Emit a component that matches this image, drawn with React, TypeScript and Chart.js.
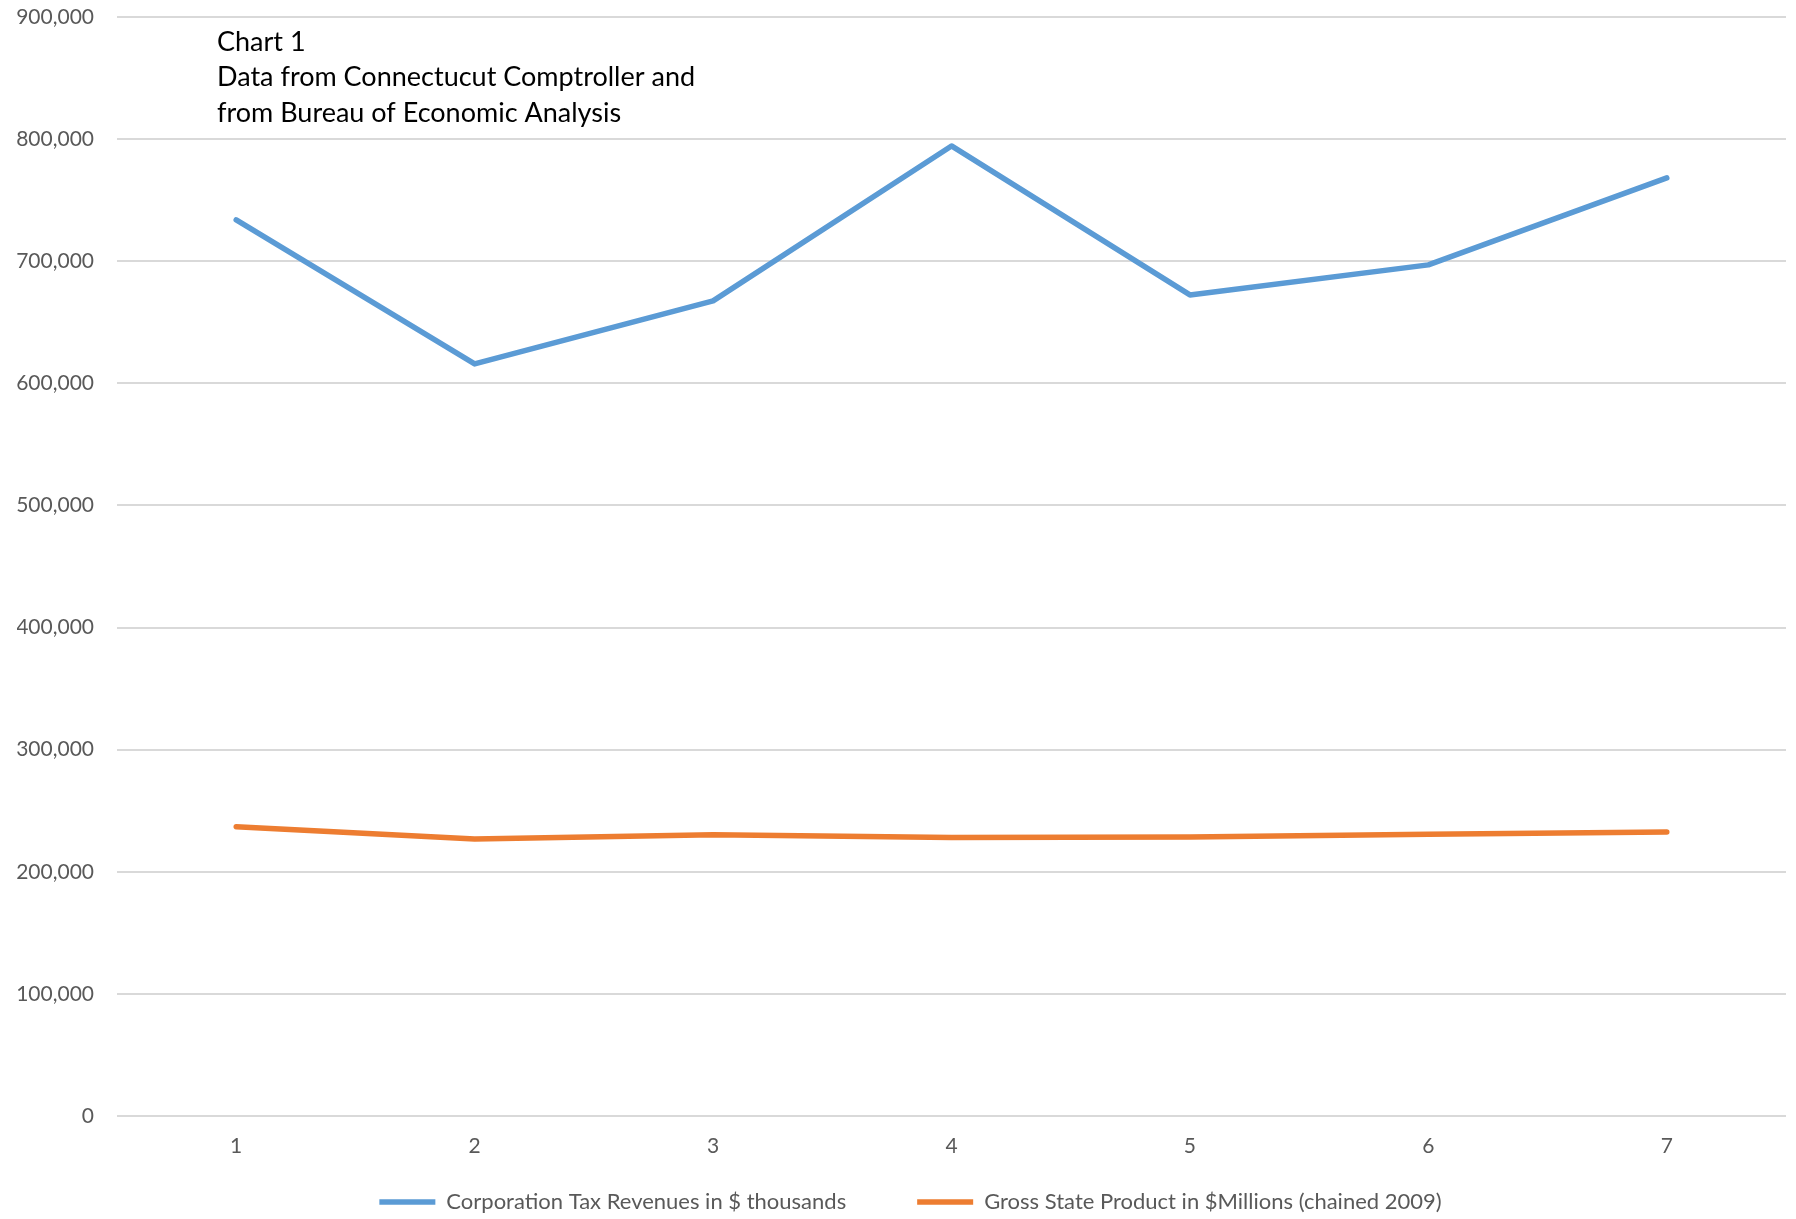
import { useEffect, useRef } from "react";
import { Chart, registerables } from "chart.js";

Chart.register(...registerables);

const categories = ["1", "2", "3", "4", "5", "6", "7"];
const corporationTaxRevenues = [733800, 615900, 667500, 794400, 672400, 697000, 768200];
const grossStateProduct = [236900, 226900, 230400, 228000, 228400, 230800, 232600];
const seriesLabels = [
  "Corporation Tax Revenues in $ thousands",
  "Gross State Product in $Millions (chained 2009)",
];
const titleLines = [
  "Chart 1",
  "Data from Connectucut Comptroller and",
  "from Bureau of Economic Analysis",
];
const yMin = 0;
const yMax = 900000;
const yStep = 100000;

const FONT = "Lato, 'Open Sans', sans-serif";
const LEGEND_FONT_SIZE = 22;

const cornerTitlePlugin = {
  id: "cornerTitle",
  afterDraw(chart: any) {
    const { ctx, chartArea } = chart;
    ctx.save();
    ctx.font = `27px ${FONT}`;
    ctx.fillStyle = "#000000";
    ctx.textAlign = "left";
    ctx.textBaseline = "middle";
    titleLines.forEach((t, i) => {
      ctx.fillText(t, chartArea.left + 100, chartArea.top + 25 + i * 35.5);
    });
    ctx.restore();
  },
};

const legendPlacePlugin = {
  id: "legendPlace",
  afterLayout(chart: any) {
    const lg = chart.legend;
    if (!lg) return;
    const pad = lg.options.labels.padding;
    lg.top = lg.bottom - 17 - LEGEND_FONT_SIZE / 2 - pad;
    lg.left += 9;
    lg.right += 9;
  },
};

export default function App() {
  const ref = useRef<HTMLCanvasElement | null>(null);

  useEffect(() => {
    if (!ref.current) return;
    const chart = new Chart(ref.current, {
      type: "line",
      data: {
        labels: categories,
        datasets: [
          {
            label: seriesLabels[0],
            data: corporationTaxRevenues,
            borderColor: "#5B9BD5",
            backgroundColor: "#5B9BD5",
            borderWidth: 5.5,
            borderCapStyle: "round",
            borderJoinStyle: "round",
            pointRadius: 0,
            pointHoverRadius: 0,
            tension: 0,
            fill: false,
          },
          {
            label: seriesLabels[1],
            data: grossStateProduct,
            borderColor: "#ED7D31",
            backgroundColor: "#ED7D31",
            borderWidth: 5.5,
            borderCapStyle: "round",
            borderJoinStyle: "round",
            pointRadius: 0,
            pointHoverRadius: 0,
            tension: 0,
            fill: false,
          },
        ],
      },
      options: {
        responsive: false,
        animation: false,
        devicePixelRatio: 1,
        layout: { padding: { left: 17, right: 10, top: 17, bottom: 0 } },
        scales: {
          x: {
            type: "category",
            offset: true,
            grid: { display: false, drawTicks: false },
            border: { display: false },
            ticks: {
              padding: 18,
              color: "#595959",
              font: { family: FONT, size: 21 },
            },
            afterFit: (s: any) => {
              s.height = 43;
            },
          },
          y: {
            min: yMin,
            max: yMax,
            grid: {
              color: "#D9D9D9",
              lineWidth: 2,
              drawTicks: true,
              tickLength: 23,
              tickColor: "rgba(0,0,0,0)",
            },
            border: { display: false },
            ticks: {
              stepSize: yStep,
              padding: 0,
              color: "#595959",
              font: { family: FONT, size: 21 },
              callback: (v: any) => Number(v).toLocaleString("en-US"),
            },
            afterFit: (s: any) => {
              s.width = 100;
            },
          },
        },
        plugins: {
          title: { display: false },
          tooltip: { enabled: false },
          legend: {
            display: true,
            position: "bottom",
            maxHeight: 60,
            labels: {
              usePointStyle: true,
              pointStyle: "line",
              pointStyleWidth: 56,
              padding: 71,
              color: "#595959",
              font: { family: FONT, size: LEGEND_FONT_SIZE },
            },
          },
        },
      },
      plugins: [cornerTitlePlugin, legendPlacePlugin],
    } as any);
    return () => chart.destroy();
  }, []);

  return (
    <div style={{ position: "absolute", left: 0, top: 0, width: 1796, height: 1219, background: "#fff" }}>
      <canvas ref={ref} width={1796} height={1219} />
    </div>
  );
}
